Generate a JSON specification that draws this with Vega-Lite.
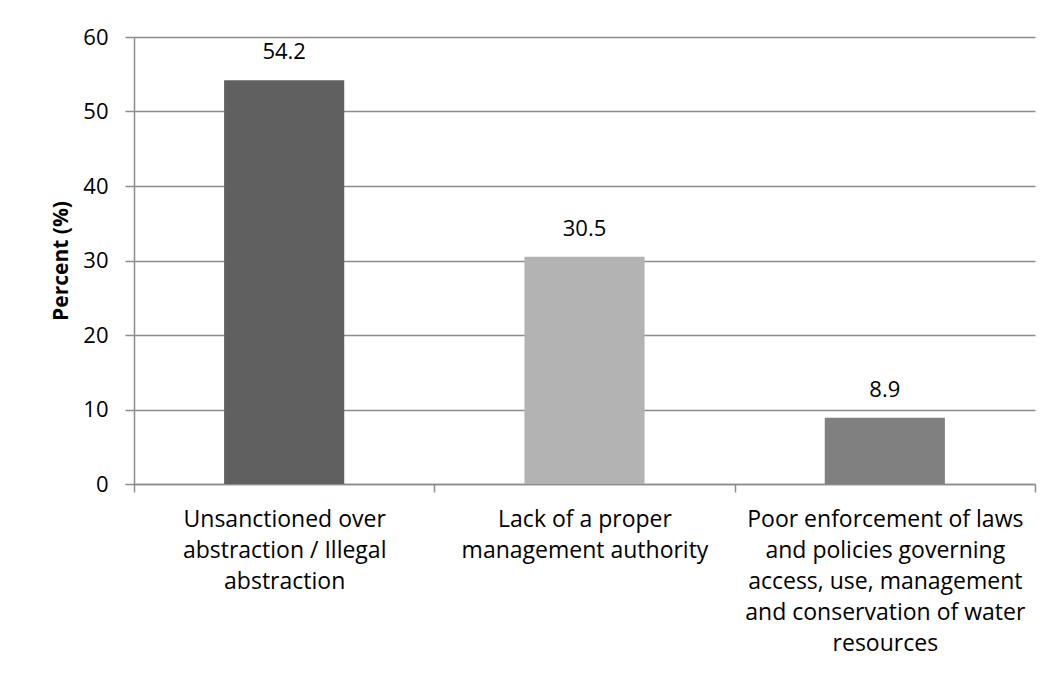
{
  "$schema": "https://vega.github.io/schema/vega-lite/v6.json",
  "width": 901,
  "height": 447,
  "autosize": {"type": "none"},
  "padding": {"left": 134, "top": 37, "right": 22, "bottom": 193},
  "background": "white",
  "config": {
    "view": {"stroke": null},
    "font": "Open Sans"
  },
  "data": {
    "values": [
      {"cause": "Unsanctioned over abstraction / Illegal abstraction", "percent": 54.2, "shade": "a"},
      {"cause": "Lack of a proper management authority", "percent": 30.5, "shade": "b"},
      {"cause": "Poor enforcement of laws and policies governing access, use, management and conservation of water resources", "percent": 8.9, "shade": "c"}
    ]
  },
  "encoding": {
    "x": {
      "field": "cause",
      "type": "nominal",
      "sort": null,
      "scale": {"paddingInner": 0, "paddingOuter": 0},
      "axis": {
        "title": null,
        "labelAngle": 0,
        "labelFont": "Open Sans",
        "labelFontSize": 23,
        "labelColor": "#000000",
        "labelLineHeight": 31,
        "labelPadding": 16,
        "labelBaseline": "top",
        "labelLimit": 0,
        "domainColor": "#8c8c8c",
        "domainWidth": 1.5,
        "tickColor": "#8c8c8c",
        "tickWidth": 1.5,
        "tickSize": 8,
        "tickBand": "extent",
        "labelExpr": "datum.label == 'Unsanctioned over abstraction / Illegal abstraction' ? ['Unsanctioned over', 'abstraction / Illegal', 'abstraction'] : datum.label == 'Lack of a proper management authority' ? ['Lack of a proper', 'management authority'] : datum.label == 'Poor enforcement of laws and policies governing access, use, management and conservation of water resources' ? ['Poor enforcement of laws', 'and policies governing', 'access, use, management', 'and conservation of water', 'resources'] : ''"
      }
    },
    "y": {
      "field": "percent",
      "type": "quantitative",
      "scale": {"domain": [0, 60], "nice": false},
      "axis": {
        "title": "Percent (%)",
        "titleFont": "Open Sans",
        "titleFontSize": 21,
        "titleFontWeight": "bold",
        "titleColor": "#000000",
        "titlePadding": 11,
        "values": [0, 10, 20, 30, 40, 50, 60],
        "labelFont": "Open Sans",
        "labelFontSize": 22,
        "labelColor": "#000000",
        "labelPadding": 17,
        "grid": true,
        "gridColor": "#8c8c8c",
        "gridWidth": 1.5,
        "domainColor": "#8c8c8c",
        "domainWidth": 1.5,
        "tickColor": "#8c8c8c",
        "tickWidth": 1.5,
        "tickSize": 9
      }
    }
  },
  "layer": [
    {
      "mark": {"type": "bar", "width": {"band": 0.4}},
      "encoding": {
        "color": {
          "field": "shade",
          "type": "nominal",
          "scale": {"domain": ["a", "b", "c"], "range": ["#606060", "#b3b3b3", "#808080"]},
          "legend": null
        }
      }
    },
    {
      "mark": {"type": "text", "dy": -28, "baseline": "middle", "font": "Open Sans", "fontSize": 22, "color": "#000000"},
      "encoding": {
        "text": {"field": "percent", "type": "quantitative", "format": ".1f"}
      }
    }
  ]
}
